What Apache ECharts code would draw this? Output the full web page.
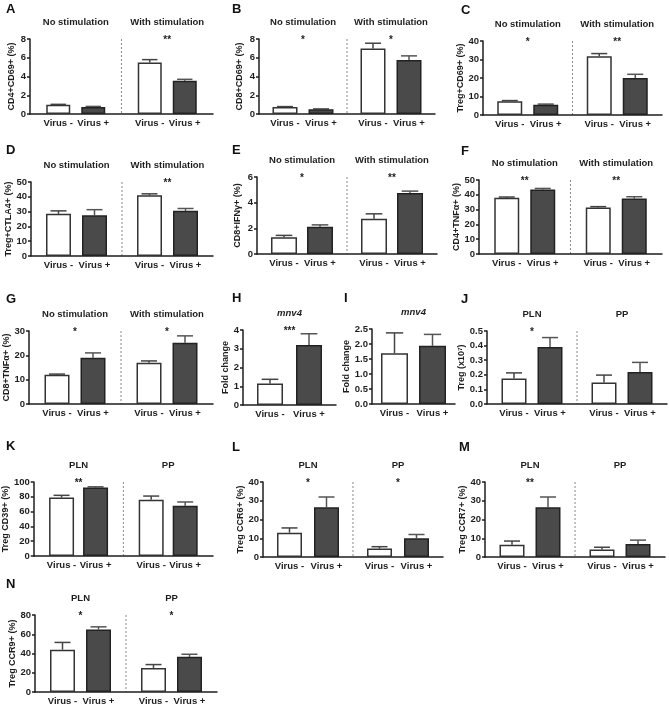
<!DOCTYPE html>
<html>
<head>
<meta charset="utf-8">
<script src="https://cdn.jsdelivr.net/npm/echarts@6/dist/echarts.min.js"></script>
<style>
html,body{margin:0;padding:0;background:#fff;}
#chart{width:669px;height:710px;}
</style>
</head>
<body>
<div id="chart"></div>
<script>
// ---------- categories / labels ----------
const groupsStim = ['No stimulation', 'With stimulation'];
const groupsSite = ['PLN', 'PP'];
const groupsMnv = ['mnv4'];
const virusNames = ['Virus -', 'Virus +'];

// ---------- data (mean, error) ----------
const A_neg = [1.0, 5.5];   const A_negErr = [0.03, 0.3];  const A_pos = [0.75, 3.55]; const A_posErr = [0.06, 0.15]; const A_sig = ['', '**'];
const B_neg = [0.75, 7.0];  const B_negErr = [0.04, 0.55]; const B_pos = [0.5, 5.75];  const B_posErr = [0.05, 0.45]; const B_sig = ['*', '*'];
const C_neg = [7.5, 31.7];  const C_negErr = [0.3, 1.5];   const C_pos = [5.5, 20];    const C_posErr = [0.4, 2];     const C_sig = ['*', '**'];
const D_neg = [28.5, 41];   const D_negErr = [2, 1];       const D_pos = [27.5, 30.5]; const D_posErr = [3.8, 1.6];   const D_sig = ['', '**'];
const E_neg = [1.3, 2.75];  const E_negErr = [0.15, 0.38]; const E_pos = [2.12, 4.75]; const E_posErr = [0.15, 0.15]; const E_sig = ['*', '**'];
const F_neg = [38, 31.5];   const F_negErr = [0.5, 0.5];   const F_pos = [43.5, 37.5]; const F_posErr = [0.8, 1.2];   const F_sig = ['**', '**'];
const G_neg = [12, 17];     const G_negErr = [0.3, 0.7];   const G_pos = [19, 25.2];   const G_posErr = [2, 2.8];     const G_sig = ['*', '*'];
const H_neg = [1.15];       const H_negErr = [0.22];       const H_pos = [3.2];        const H_posErr = [0.6];        const H_sig = ['***'];
const I_neg = [1.69];       const I_negErr = [0.68];       const I_pos = [1.94];       const I_posErr = [0.38];       const I_sig = [''];
const J_neg = [0.175, 0.148]; const J_negErr = [0.038, 0.05]; const J_pos = [0.39, 0.22]; const J_posErr = [0.065, 0.065]; const J_sig = ['*', ''];
const K_neg = [79, 76];     const K_negErr = [3, 5];       const K_pos = [92.5, 68];   const K_posErr = [1, 5];       const K_sig = ['**', ''];
const L_neg = [13, 4.5];    const L_negErr = [2.5, 1];     const L_pos = [26.5, 10];   const L_posErr = [5.5, 2];     const L_sig = ['*', '*'];
const M_neg = [6.5, 4];     const M_negErr = [2, 1.2];     const M_pos = [26.5, 7];    const M_posErr = [5.5, 2];     const M_sig = ['**', ''];
const N_neg = [44, 25];     const N_negErr = [7.5, 3.5];   const N_pos = [65, 36.5];   const N_posErr = [2.7, 2.7];   const N_sig = ['*', '*'];

const panelData = {
  A: [A_neg, A_negErr, A_pos, A_posErr, A_sig],
  B: [B_neg, B_negErr, B_pos, B_posErr, B_sig],
  C: [C_neg, C_negErr, C_pos, C_posErr, C_sig],
  D: [D_neg, D_negErr, D_pos, D_posErr, D_sig],
  E: [E_neg, E_negErr, E_pos, E_posErr, E_sig],
  F: [F_neg, F_negErr, F_pos, F_posErr, F_sig],
  G: [G_neg, G_negErr, G_pos, G_posErr, G_sig],
  H: [H_neg, H_negErr, H_pos, H_posErr, H_sig],
  I: [I_neg, I_negErr, I_pos, I_posErr, I_sig],
  J: [J_neg, J_negErr, J_pos, J_posErr, J_sig],
  K: [K_neg, K_negErr, K_pos, K_posErr, K_sig],
  L: [L_neg, L_negErr, L_pos, L_posErr, L_sig],
  M: [M_neg, M_negErr, M_pos, M_posErr, M_sig],
  N: [N_neg, N_negErr, N_pos, N_posErr, N_sig]
};

// ---------- layout (positions / axes / styles) ----------
const layout = [
  {key:'A', lx:6,   ly:3,   left:30,  top:39,  right:213, bottom:114, max:8,   interval:2,   yName:'CD4+CD69+ (%)',  nameGap:14, groups:groupsStim, bw:24, gap:11},
  {key:'B', lx:232, ly:3,   left:259, top:39,  right:435, bottom:114, max:8,   interval:2,   yName:'CD8+CD69+ (%)',  nameGap:15, groups:groupsStim},
  {key:'C', lx:461, ly:4,   left:483, top:41,  right:662, bottom:115, max:40,  interval:10,  yName:'Treg+CD69+ (%)', nameGap:13, groups:groupsStim},
  {key:'D', lx:6,   ly:144, left:31,  top:182, right:213, bottom:256, max:50,  interval:10,  yName:'Treg+CTLA4+ (%)',nameGap:17, groups:groupsStim},
  {key:'E', lx:232, ly:144, left:257, top:177, right:437, bottom:254, max:6,   interval:2,   yName:'CD8+IFNγ+ (%)',  nameGap:15, groups:groupsStim, bw:26, gap:10},
  {key:'F', lx:461, ly:145, left:479, top:180, right:662, bottom:254, max:50,  interval:10,  yName:'CD4+TNFα+ (%)',  nameGap:11, groups:groupsStim},
  {key:'G', lx:6,   ly:293, left:29,  top:331, right:213, bottom:404, max:30,  interval:10,  yName:'CD8+TNFα+ (%)',  nameGap:15, groups:groupsStim},
  {key:'H', lx:232, ly:292, left:243, top:330, right:336, bottom:405, max:4,   interval:1,   yName:'Fold change',    nameGap:8,  groups:groupsMnv, italic:true, bw:26, gap:13},
  {key:'I', lx:344, ly:292, left:372, top:329, right:455, bottom:404, max:2.5, interval:0.5, yName:'Fold change',    nameGap:18, groups:groupsMnv, italic:true, bw:27, gap:11, dec:1},
  {key:'J', lx:461, ly:293, left:487, top:331, right:667, bottom:404, max:0.5, interval:0.1, yName:'Treg (x10⁷)',    nameGap:17, groups:groupsSite, dec:1},
  {key:'K', lx:6,   ly:440, left:33,  top:482, right:213, bottom:556, max:100, interval:20,  yName:'Treg CD39+ (%)', nameGap:22, groups:groupsSite, gap:9},
  {key:'L', lx:232, ly:441, left:263, top:482, right:443, bottom:557, max:40,  interval:10,  yName:'Treg CCR6+ (%)', nameGap:15, groups:groupsSite, gap:12},
  {key:'M', lx:459, ly:441, left:485, top:482, right:665, bottom:557, max:40,  interval:10,  yName:'Treg CCR7+ (%)', nameGap:16, groups:groupsSite},
  {key:'N', lx:6,   ly:578, left:35,  top:615, right:217, bottom:692, max:80,  interval:20,  yName:'Treg CCR9+ (%)', nameGap:17, groups:groupsSite}
];

const FONT = '"Liberation Sans", Arial, Helvetica, sans-serif';
const INK = '#1e1e1e';
const DARK_FILL = '#4a4a4a';

const option = {
  animation: false,
  backgroundColor: '#fff',
  textStyle: {fontFamily: FONT},
  title: [], grid: [], xAxis: [], yAxis: [], series: []
};

layout.forEach((p, i) => {
  const [neg, negErr, pos, posErr, sig] = panelData[p.key];
  const bw = p.bw || 25;
  const gap = p.gap || 11;
  const spacing = bw + gap;

  option.title.push({
    text: p.key, left: p.lx, top: p.ly, padding: 0,
    textStyle: {fontSize: 13, fontWeight: 'bold', color: '#111', fontFamily: FONT}
  });
  option.grid.push({left: p.left, top: p.top, width: p.right - p.left, height: p.bottom - p.top});

  // bottom category axis (line only)
  option.xAxis.push({
    gridIndex: i, type: 'category', data: p.groups, position: 'bottom',
    axisLine: {show: true, lineStyle: {color: INK, width: 1.5}},
    axisTick: {show: false}, axisLabel: {show: false}, splitLine: {show: false}
  });
  // top category axis: group titles + significance marks
  option.xAxis.push({
    gridIndex: i, type: 'category', data: p.groups, position: 'top',
    axisLine: {show: false}, axisTick: {show: false}, splitLine: {show: false},
    axisLabel: {
      show: true, interval: 0, margin: -6,
      formatter: (v, idx) => '{t|' + v + '}\n{s|' + (sig[idx] || '\u00a0') + '}',
      rich: {
        t: {fontSize: 9.5, fontWeight: 'bold', fontStyle: p.italic ? 'italic' : 'normal', color: INK, fontFamily: FONT, lineHeight: 27},
        s: {fontSize: 10, fontWeight: 'bold', color: INK, fontFamily: FONT, lineHeight: 9}
      }
    }
  });
  option.yAxis.push({
    gridIndex: i, type: 'value', min: 0, max: p.max, interval: p.interval,
    axisLine: {show: true, lineStyle: {color: INK, width: 1.5}},
    axisTick: {show: true, length: 3, lineStyle: {color: INK, width: 1.5}},
    axisLabel: {fontSize: 9.5, fontWeight: 'bold', color: INK, margin: 4, fontFamily: FONT,
      formatter: v => p.dec ? v.toFixed(p.dec) : String(Math.round(v))},
    splitLine: {show: false},
    name: p.yName, nameLocation: 'middle', nameGap: p.nameGap, nameRotate: 90,
    nameTextStyle: {fontSize: 9, fontWeight: 'bold', color: INK, fontFamily: FONT}
  });

  const labelFor = (name) => ({
    show: true, position: 'bottom', distance: 4, formatter: name,
    fontSize: 9.5, fontWeight: 'bold', color: INK, fontFamily: FONT
  });

  option.series.push({
    type: 'bar', name: virusNames[0], xAxisIndex: 2 * i, yAxisIndex: i,
    data: neg, barWidth: bw, barGap: (gap / bw * 100) + '%',
    itemStyle: {color: '#ffffff', borderColor: '#333', borderWidth: 1.5},
    label: labelFor(virusNames[0]), z: 2
  });
  option.series.push({
    type: 'bar', name: virusNames[1], xAxisIndex: 2 * i, yAxisIndex: i,
    data: pos, barWidth: bw, barGap: (gap / bw * 100) + '%',
    itemStyle: {color: DARK_FILL, borderColor: '#222', borderWidth: 1.5},
    label: labelFor(virusNames[1]), z: 2
  });

  // error bars (upper only)
  const errData = [];
  p.groups.forEach((g, j) => {
    errData.push([j, neg[j], negErr[j], 0]);
    errData.push([j, pos[j], posErr[j], 1]);
  });
  option.series.push({
    type: 'custom', xAxisIndex: 2 * i, yAxisIndex: i, z: 1,
    data: errData,
    renderItem: (params, api) => {
      const base = api.coord([api.value(0), api.value(1)]);
      const tip = api.coord([api.value(0), api.value(1) + api.value(2)]);
      const x = base[0] + (api.value(3) === 0 ? -1 : 1) * spacing / 2;
      const half = bw * 0.32;
      const col = api.value(3) === 0 ? '#444' : '#555';
      return {
        type: 'group', children: [
          {type: 'line', shape: {x1: x, y1: base[1], x2: x, y2: tip[1]}, style: {stroke: col, lineWidth: 1.5}},
          {type: 'line', shape: {x1: x - half, y1: tip[1], x2: x + half, y2: tip[1]}, style: {stroke: col, lineWidth: 1.5}}
        ]
      };
    }
  });

  // dashed divider between the two groups
  if (p.groups.length === 2) {
    option.series.push({
      type: 'custom', xAxisIndex: 2 * i, yAxisIndex: i, z: 0,
      data: [[0, p.max]],
      renderItem: (params, api) => {
        const a = api.coord([0, api.value(1)]);
        const b = api.coord([1, 0]);
        const x = (a[0] + b[0]) / 2;
        return {type: 'line', shape: {x1: x, y1: a[1], x2: x, y2: b[1]},
          style: {stroke: '#8a8a8a', lineWidth: 1, lineDash: [2, 2]}};
      }
    });
  }
});

const chart = echarts.init(document.getElementById('chart'), null, {renderer: 'canvas'});
chart.setOption(option);
</script>
</body>
</html>
